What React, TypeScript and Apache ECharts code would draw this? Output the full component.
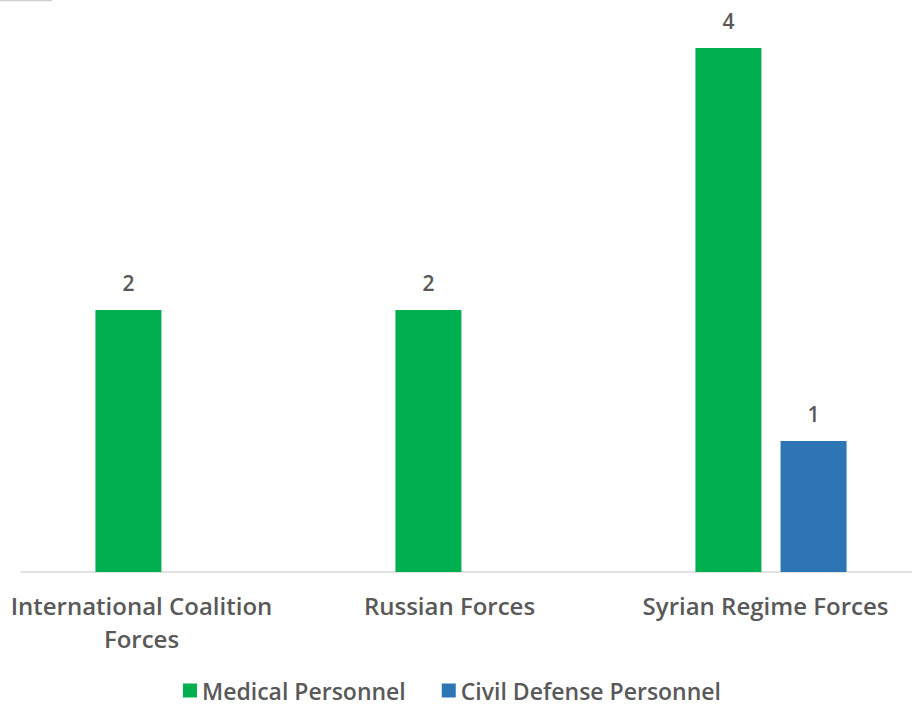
import React, { useEffect, useRef } from "react";
import * as echarts from "echarts";

const categories = ["International Coalition\nForces", "Russian Forces", "Syrian Regime Forces"];
const labelShifts = [59, 43, 11];
const medicalValues = [2, 2, 4];
const civilValues: (number | null)[] = [null, null, 1];
const seriesNames = ["Medical Personnel", "Civil Defense Personnel"];

const TEXT = "#595959";
const FONT = "'Open Sans', 'Noto Sans', sans-serif";

export default function App() {
  const ref = useRef<HTMLDivElement>(null);
  useEffect(() => {
    if (!ref.current) return;
    const chart = echarts.init(ref.current, undefined, { renderer: "svg" });
    chart.setOption({
      animation: false,
      textStyle: { fontFamily: FONT },
      graphic: [
        { type: "line", shape: { x1: 0, y1: 0.5, x2: 52, y2: 0.5 }, style: { stroke: "#cfcfcf", lineWidth: 1.5 } },
      ],
      grid: { left: 21, width: 900, top: 48, bottom: 141, containLabel: false },
      legend: {
        top: 679,
        left: 183,
        padding: 0,
        icon: "rect",
        itemWidth: 14,
        itemHeight: 14,
        itemGap: 36,
        textStyle: { color: TEXT, fontSize: 23, lineHeight: 22, fontWeight: 600, fontFamily: FONT },
        data: seriesNames,
      },
      xAxis: {
        type: "category",
        data: categories.map((c, i) => ({
          value: c,
          textStyle: { padding: [0, labelShifts[i], 0, 0] },
        })),
        axisLine: { lineStyle: { color: "#d9d9d9", width: 1.5 } },
        axisTick: { show: false },
        axisLabel: {
          color: TEXT,
          fontSize: 24,
          fontWeight: 600,
          fontFamily: FONT,
          margin: 17,
          lineHeight: 33,
          interval: 0,
        },
      },
      yAxis: {
        type: "value",
        min: 0,
        max: 4,
        interval: 1,
        show: false,
        splitLine: { show: false },
      },
      series: [
        {
          name: seriesNames[0],
          type: "bar",
          data: medicalValues,
          barWidth: 66,
          barGap: "29%",
          itemStyle: { color: "#00B050" },
          label: { show: true, position: "top", distance: 17, color: TEXT, fontSize: 21, fontWeight: 600, fontFamily: FONT },
        },
        {
          name: seriesNames[1],
          type: "bar",
          data: civilValues,
          barWidth: 66,
          barGap: "29%",
          itemStyle: { color: "#2E75B6" },
          label: { show: true, position: "top", distance: 17, color: TEXT, fontSize: 21, fontWeight: 600, fontFamily: FONT },
        },
      ],
    });
    return () => chart.dispose();
  }, []);
  return (
    <div style={{ width: 912, height: 713, position: "absolute", left: 0, top: 0, overflow: "hidden" }}>
      <div ref={ref} style={{ width: 932, height: 713 }} />
    </div>
  );
}
